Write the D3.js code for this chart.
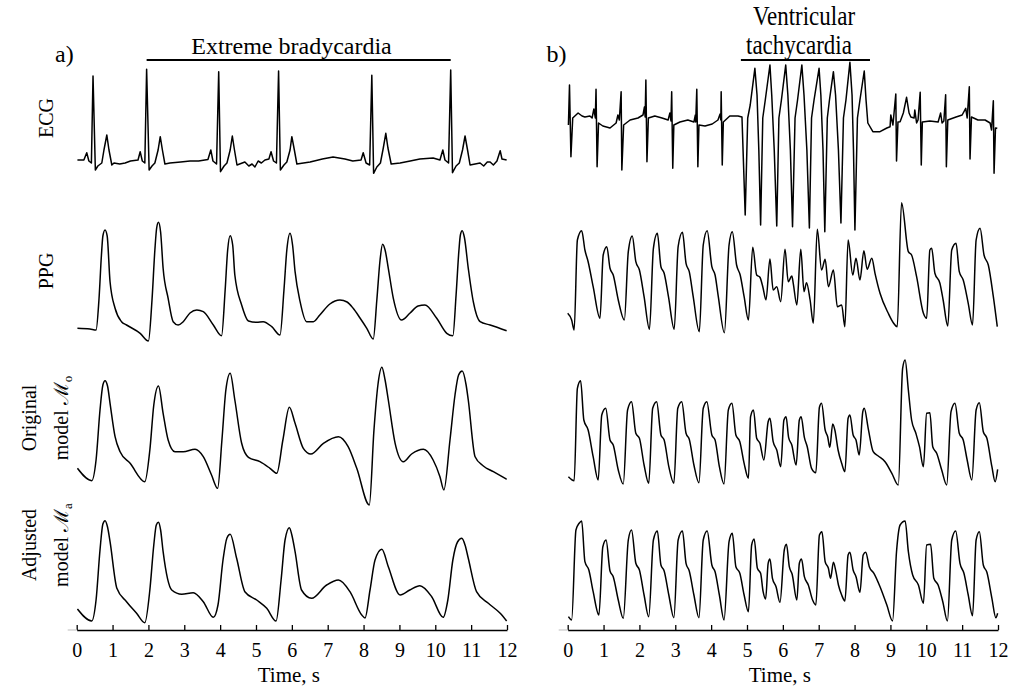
<!DOCTYPE html>
<html>
<head>
<meta charset="utf-8">
<script src="https://cdn.jsdelivr.net/npm/d3@7"></script>
<style>
  html, body { margin: 0; padding: 0; background: #fff; }
  svg { display: block; }
  text { font-family: "Liberation Serif", "Times New Roman", serif; fill: #000; }
</style>
</head>
<body>
<svg id="chart" width="1015" height="692"></svg>
<script>
// ---- data: [time (s), amplitude (arbitrary units per trace)] ----
const timeTicks = [0, 1, 2, 3, 4, 5, 6, 7, 8, 9, 10, 11, 12];

const ecgA = [[0.02,20],[0.20,20],[0.28,27.3],[0.34,19],[0.41,17],[0.455,104],[0.52,10],[0.59,14],[0.70,17],[0.76,30],[0.84,45],[0.90,30],[0.98,15],[1.04,17],[1.20,16],[1.35,17],[1.50,19],[1.71,20],
  [1.77,28.3],[1.83,19],[1.90,17],[1.95,110.7],[2.02,10],[2.10,14],[2.18,17],[2.27,30],[2.33,43.3],[2.39,30],[2.46,16],[2.60,17],[2.90,18],[3.16,19],[3.40,19],[3.66,20.5],
  [3.74,30],[3.80,19],[3.90,16],[3.96,108.3],[4.01,8.3],[4.11,14],[4.19,17],[4.28,30],[4.34,44],[4.40,30],[4.47,15],[4.69,18],[4.80,14],[4.89,16],[4.97,13],[5.06,19],[5.15,17],[5.25,20],[5.36,21],
  [5.42,28.3],[5.49,19],[5.57,17],[5.63,109],[5.68,10],[5.78,15],[5.86,18],[5.95,30],[6.00,43.3],[6.07,30],[6.14,16],[6.51,18],[6.85,21],[7.15,23],[7.48,21],[7.70,19],[7.93,20],
  [7.99,27.3],[8.07,17],[8.17,15],[8.23,104.7],[8.28,6.7],[8.37,13],[8.47,17],[8.55,32],[8.62,46.7],[8.68,32],[8.77,16],[9.02,17],[9.30,19],[9.57,21],[9.94,22],[10.13,20],
  [10.21,30],[10.27,20],[10.37,17],[10.43,110],[10.48,7.3],[10.58,14],[10.67,17],[10.76,30],[10.83,44],[10.90,30],[10.97,15],[11.25,17],[11.35,14],[11.45,18],[11.53,18],[11.62,15],[11.72,19],
  [11.81,29.3],[11.86,21],[11.99,20]];

const ppgA = [[0.02,11.7],[0.37,11],[0.54,10],[0.62,40],[0.69,85],[0.73,104],[0.79,110],[0.85,104],[0.93,58.3],[1.07,31.7],[1.25,18.3],[1.39,15],[1.77,6.7],[2.00,-1],
  [2.10,40],[2.18,90],[2.23,112],[2.28,117.7],[2.34,108],[2.41,71.7],[2.55,41.7],[2.69,18.3],[2.83,15],[2.97,18.3],[3.16,27],[3.35,30],[3.53,28.3],[3.81,15],[4.04,4.3],
  [4.14,50],[4.21,90],[4.28,104.3],[4.35,95],[4.41,65],[4.60,35],[4.79,19],[5.02,17.7],[5.20,18.3],[5.44,13.3],[5.67,5],
  [5.78,50],[5.86,90],[5.95,106.7],[6.02,95],[6.09,68.3],[6.23,38.3],[6.41,18.3],[6.60,18.3],[6.78,25],[7.06,36],[7.34,40],[7.54,38],[7.71,31.7],[7.90,22],[8.09,11.7],[8.27,1],
  [8.37,40],[8.46,80],[8.53,95.7],[8.60,90],[8.69,71.7],[8.83,41.7],[9.06,20],[9.29,26.7],[9.52,34],[9.71,35],[10.04,21.7],[10.32,6.7],[10.49,4.3],
  [10.58,45],[10.66,90],[10.70,105],[10.75,109.3],[10.81,103],[10.92,71.7],[11.06,38.3],[11.25,18.3],[11.53,15],[11.99,9.3]];

const origA = [[0.02,16.7],[0.42,4.3],[0.54,25],[0.65,75],[0.73,100],[0.79,104.3],[0.86,99],[0.93,81.7],[1.07,48.3],[1.21,33.3],[1.49,21.7],[1.90,3.3],
  [2.04,35],[2.15,80],[2.28,99],[2.41,71.7],[2.55,45],[2.74,33.3],[2.97,33.3],[3.30,35.7],[3.53,28.3],[3.76,10],[3.93,-3.3],
  [4.05,45],[4.16,95],[4.28,111.7],[4.41,85],[4.60,41.7],[4.79,27.7],[5.11,23.3],[5.39,16.7],[5.58,11.7],
  [5.75,45],[5.93,77.7],[6.09,61.7],[6.32,36.7],[6.53,31],[6.88,41.7],[7.30,48.3],[7.57,38.3],[7.81,16.7],[8.16,-20],
  [8.29,55],[8.40,100],[8.51,117.7],[8.60,105],[8.69,85],[8.88,41.7],[9.11,23.3],[9.34,31],[9.67,35.7],[9.94,25],[10.13,8.3],[10.24,-5],
  [10.41,45],[10.55,90],[10.65,110],[10.75,114],[10.86,100],[10.92,85],[11.11,28.3],[11.34,19],[11.62,13.3],[11.99,5.7]];

const adjA = [[0.02,11],[0.42,-1],[0.54,20],[0.65,70],[0.73,96],[0.79,99.3],[0.86,93],[0.93,78.3],[1.12,31.7],[1.39,18.3],[1.67,6.7],[1.90,-2.7],
  [2.04,30],[2.15,75],[2.22,95],[2.28,97.7],[2.34,90],[2.41,68.3],[2.65,30],[2.93,25.7],[3.25,27.3],[3.53,18.3],[3.81,2.7],
  [3.94,15],[4.08,60],[4.19,82],[4.28,85.7],[4.46,61.7],[4.69,28.3],[5.02,20],[5.30,11.7],[5.56,-1],
  [5.70,40],[5.81,80],[5.93,92.3],[6.00,85],[6.09,68.3],[6.27,30],[6.55,21.7],[6.97,35],[7.30,40],[7.62,28.3],[7.95,5],[8.04,2],
  [8.18,30],[8.32,60],[8.51,70.7],[8.69,53.3],[9.02,25],[9.29,30],[9.57,34.3],[9.90,23.3],[10.22,2.7],
  [10.35,20],[10.49,60],[10.62,78],[10.74,81.7],[10.83,75],[10.92,61.7],[11.15,28.3],[11.48,16.7],[11.81,6.7],[11.99,-1]];

const ecgB = [[0.02,55],[0.05,95],[0.09,23.3],[0.14,62],[0.29,67],[0.40,64],[0.48,63],[0.62,64],[0.68,62],[0.73,71],[0.77,62],
  [0.79,90.7],[0.82,13.3],[0.86,57],[0.98,54],[1.08,53],[1.18,52],[1.35,57],[1.40,65],[1.44,60],
  [1.49,88.3],[1.51,10],[1.56,55],[1.74,60],[1.96,62],[2.10,65],[2.14,73],[2.16,63],
  [2.18,100],[2.21,18.3],[2.25,62],[2.43,64],[2.63,62],[2.80,60],[2.85,67],[2.88,59],
  [2.90,88.3],[2.93,11.7],[2.96,55],[3.13,58],[3.35,60],[3.52,58],[3.56,65],[3.57,58],
  [3.60,90.7],[3.63,13.3],[3.66,55],[3.83,54],[4.03,56],[4.19,60],[4.25,66],[4.27,60],
  [4.28,88.3],[4.31,15],[4.34,58],[4.52,64],[4.75,64],[4.86,63],
  [4.95,-35],[5.02,62],[5.09,75],[5.22,111.7],[5.28,85],[5.33,30],
  [5.38,-45],[5.44,62],[5.51,80],[5.64,115],[5.69,85],[5.76,30],
  [5.83,-46],[5.89,62],[5.96,80],[6.08,115],[6.14,85],[6.21,30],
  [6.27,-46.7],[6.34,62],[6.41,80],[6.53,115],[6.59,85],[6.67,30],
  [6.74,-48],[6.80,62],[6.87,80],[7.01,111.7],[7.06,85],[7.12,30],
  [7.17,-51.7],[7.24,62],[7.30,80],[7.41,108.3],[7.47,85],[7.55,30],
  [7.62,-43],[7.69,62],[7.76,80],[7.87,117.7],[7.93,85],[7.97,30],
  [8.01,-50],[8.08,62],[8.15,80],[8.27,109],[8.32,80],[8.37,57],
  [8.51,48.3],[8.71,48.3],[8.90,52],[8.99,53.3],[9.01,65],[9.07,55],
  [9.15,86],[9.17,19],[9.21,58],[9.27,58.3],[9.36,67],[9.45,82.7],[9.52,67],[9.57,63],[9.66,62],[9.68,70],[9.73,57],[9.77,60],
  [9.83,87.7],[9.86,15],[9.89,58],[10.10,59],[10.33,58],[10.40,67],[10.44,57],[10.49,59],
  [10.54,85.3],[10.56,13.3],[10.60,60],[10.83,63],[11.00,65],[11.10,71.7],[11.14,62],
  [11.20,93.3],[11.22,21],[11.26,63],[11.44,60],[11.64,60],[11.78,57],[11.82,50],
  [11.87,79.3],[11.89,6.7],[11.93,52],[11.98,51.7]];

const ppgB = [[0.00,26.7],[0.11,20],[0.18,10],[0.27,100],[0.39,109.3],[0.48,90],[0.57,78.3],[0.71,53.3],[0.90,21.7],
  [0.99,85],[1.09,93.3],[1.18,71.7],[1.27,65],[1.41,40],[1.58,20],
  [1.69,88.3],[1.80,104],[1.90,78.3],[2.00,70],[2.13,43.3],[2.28,10.7],
  [2.39,91.7],[2.50,106.7],[2.60,73.3],[2.69,66.7],[2.81,43.3],[2.97,10.7],
  [3.08,93.3],[3.20,107.7],[3.30,76.7],[3.39,68.3],[3.50,43.3],[3.67,8.3],
  [3.78,95],[3.89,109.3],[4.02,73.3],[4.11,65],[4.20,43.3],[4.37,7.3],
  [4.50,95],[4.59,108.3],[4.71,75],[4.81,65],[4.92,43.3],[5.04,20],
  [5.16,92.7],[5.27,65],[5.36,62.7],[5.44,53.3],[5.53,40],
  [5.64,81],[5.73,50],[5.83,53.3],[5.94,38.3],
  [6.06,90.7],[6.15,58.3],[6.25,64],[6.29,56.7],[6.39,35],
  [6.50,90.7],[6.59,48.3],[6.66,57.3],[6.76,40],[6.85,16.7],
  [6.96,110.7],[7.08,70],[7.18,80.7],[7.27,53.3],[7.41,70],[7.52,33.3],[7.64,35],[7.73,13.3],
  [7.82,100],[7.95,65],[8.04,81.7],[8.15,60],[8.26,89.3],[8.35,70.7],[8.48,81.7],[8.57,66.7],[8.71,46.7],[8.94,26.7],[9.08,17.3],[9.19,13.3],
  [9.31,137.3],[9.50,88.3],[9.59,85],[9.73,63.3],[9.92,26.7],[10.01,21.7],
  [10.10,90],[10.15,91.7],[10.24,66.7],[10.38,56.7],[10.47,40],[10.60,14],
  [10.71,90],[10.83,96.7],[10.92,68.3],[11.03,60],[11.17,36.7],[11.29,15],
  [11.39,100],[11.50,111.7],[11.61,85],[11.73,75],[11.87,43.3],[11.98,13.3]];

const origB = [[0.02,8.3],[0.18,4.3],[0.27,96.7],[0.36,104.3],[0.45,65],[0.57,55],[0.71,28.3],[0.85,5],
  [0.95,70],[1.06,76.7],[1.18,45],[1.27,40],[1.41,15],[1.55,1],
  [1.67,75],[1.78,83.3],[1.90,51.7],[2.00,46.7],[2.13,20],[2.26,1.7],
  [2.37,76.7],[2.48,83.3],[2.60,50],[2.69,45],[2.82,18.3],[2.96,1.7],
  [3.07,76.7],[3.18,83.3],[3.30,51.7],[3.39,45.7],[3.52,20],[3.66,2.3],
  [3.78,76.7],[3.88,83.3],[4.02,50],[4.11,45],[4.23,18.3],[4.36,1],
  [4.48,75],[4.58,81.7],[4.69,50],[4.80,43.3],[4.92,21.7],[5.04,6.7],
  [5.10,68.3],[5.18,75],[5.27,46.7],[5.36,41.7],[5.47,25],
  [5.59,63.3],[5.64,66.7],[5.73,43.3],[5.83,35],[5.94,18.3],
  [6.03,65],[6.09,68.3],[6.16,47.7],[6.25,40],[6.37,20],
  [6.46,65],[6.51,68.3],[6.60,47.7],[6.68,38.3],[6.80,16.7],[6.92,12.3],
  [7.02,77.7],[7.08,81.7],[7.18,55],[7.25,48.3],[7.31,37.7],[7.39,61],[7.45,55],[7.54,35],[7.64,21.7],[7.73,13.3],
  [7.82,66.7],[7.87,70],[7.96,50],[8.04,45],[8.13,30],
  [8.23,73.3],[8.27,76.7],[8.38,56.7],[8.52,33.3],[8.66,29],[8.85,23.3],[9.04,11.7],[9.22,0],
  [9.34,116.7],[9.41,125],[9.50,95],[9.59,65],[9.71,51.7],[9.81,38.3],[9.92,18.3],
  [10.01,71.7],[10.10,72.3],[10.18,38.3],[10.29,31.7],[10.43,15],[10.57,0],
  [10.69,73.3],[10.80,81.7],[10.92,51.7],[11.03,45],[11.14,25],[11.27,5],
  [11.39,75],[11.48,82.3],[11.59,53.3],[11.69,46.7],[11.83,18.3],[11.92,3.3],[11.99,15.7]];

const adjB = [[0.02,3.3],[0.11,0],[0.23,90],[0.32,96.7],[0.39,99],[0.48,58.3],[0.59,50],[0.71,28.3],[0.87,5],
  [0.98,73.3],[1.07,80],[1.18,49],[1.27,43.3],[1.41,20],[1.55,1.7],
  [1.69,80],[1.78,90],[1.90,56.7],[2.00,50],[2.13,25],[2.26,3.3],
  [2.39,80],[2.50,89],[2.60,55],[2.69,49],[2.82,25],[2.96,2.3],
  [3.08,80],[3.20,89],[3.30,56.7],[3.39,49],[3.52,25],[3.66,2.3],
  [3.78,80],[3.89,89],[4.02,55],[4.11,48.3],[4.23,25],[4.36,0],
  [4.50,78.3],[4.59,86.7],[4.69,53.3],[4.80,46.7],[4.92,25],[5.04,8.3],
  [5.13,75],[5.20,81],[5.29,51.7],[5.38,46.7],[5.45,28.3],[5.52,21],
  [5.59,56.7],[5.64,61],[5.71,41.7],[5.81,33.3],[5.92,17.7],
  [6.04,70],[6.10,75.7],[6.18,53.3],[6.26,45.7],[6.39,20],
  [6.46,56.7],[6.52,61],[6.60,43.3],[6.71,35],[6.83,20],[6.92,15],
  [7.02,85],[7.09,88.3],[7.18,58.3],[7.27,51.7],[7.33,41.7],[7.41,57.7],[7.48,48.3],[7.55,35],[7.64,25],[7.73,19],
  [7.82,65],[7.87,67.7],[7.96,50],[8.04,43.3],[8.15,27.7],
  [8.24,65],[8.31,67.7],[8.41,53.3],[8.54,46.7],[8.71,33.3],[8.90,15],[9.06,-1],
  [9.17,68.3],[9.27,95],[9.41,99],[9.50,68.3],[9.62,45],[9.78,35],[9.92,16.7],
  [10.01,75],[10.12,75.7],[10.21,41.7],[10.33,35],[10.46,18.3],[10.59,-1],
  [10.71,80],[10.82,89],[10.94,56.7],[11.05,46.7],[11.17,25],[11.29,4.3],
  [11.39,80],[11.48,88.3],[11.59,55],[11.69,47.7],[11.83,21.7],[11.94,2.3],[11.99,6.7]];

// episode markers: [start, end] in seconds
const episodeA = [1.95, 10.43];
const episodeB = [4.83, 8.43];

// ---- layout ----
const svg = d3.select("#chart");
const panels = [
  { x0: 76.7, x1: 507, traces: [ecgA, ppgA, origA, adjA] },
  { x0: 567.7, x1: 998, traces: [ecgB, ppgB, origB, adjB] }
];
// vertical band per row: amplitude 0 -> bottom, 100 -> top
const rows = [
  { bottom: 180, top: 80, curve: d3.curveLinear },
  { bottom: 340, top: 240, curve: d3.curveMonotoneX },
  { bottom: 485, top: 385, curve: d3.curveMonotoneX },
  { bottom: 620, top: 520, curve: d3.curveMonotoneX }
];
const axisY = 630;
const serif = '"Liberation Serif", "Times New Roman", serif';

panels.forEach((p, pi) => {
  const x = d3.scaleLinear().domain([0, 12]).range([p.x0, p.x1]);
  p.x = x;
  rows.forEach((r, ri) => {
    const y = d3.scaleLinear().domain([0, 100]).range([r.bottom, r.top]);
    const line = d3.line().x(d => x(d[0])).y(d => y(d[1])).curve(r.curve);
    svg.append("path")
      .datum(p.traces[ri])
      .attr("d", line)
      .attr("fill", "none")
      .attr("stroke", "#000")
      .attr("stroke-width", 1.5)
      .attr("stroke-linejoin", "round");
  });

  // time axis
  const axis = d3.axisBottom(x)
    .tickValues(timeTicks)
    .tickFormat(d3.format("d"))
    .tickSizeInner(-5)
    .tickSizeOuter(0)
    .tickPadding(13);
  const g = svg.append("g").attr("transform", `translate(0,${axisY})`).call(axis);
  g.attr("font-family", serif);
  g.select(".domain").attr("stroke", "#000").attr("stroke-width", 1.3);
  g.selectAll(".tick line").attr("stroke", "#000").attr("stroke-width", 1.3);
  g.selectAll(".tick text")
    .attr("font-family", serif)
    .attr("font-size", 20)
    .attr("fill", "#000");
  // short grey stub left of the axis start
  svg.append("line")
    .attr("x1", x(0) - 9).attr("x2", x(0))
    .attr("y1", axisY).attr("y2", axisY)
    .attr("stroke", "#ccc").attr("stroke-width", 1.3);

  svg.append("text")
    .attr("x", (p.x0 + p.x1) / 2 - 3)
    .attr("y", 682)
    .attr("text-anchor", "middle")
    .attr("font-size", 21)
    .text("Time, s");
});

// episode bars and titles
const xa = panels[0].x, xb = panels[1].x;
svg.append("line")
  .attr("x1", xa(episodeA[0])).attr("x2", xa(episodeA[1]))
  .attr("y1", 60).attr("y2", 60)
  .attr("stroke", "#000").attr("stroke-width", 2.2);
svg.append("text")
  .attr("x", 291.5)
  .attr("y", 53.5)
  .attr("text-anchor", "middle")
  .attr("font-size", 24)
  .text("Extreme bradycardia");

svg.append("line")
  .attr("x1", xb(episodeB[0])).attr("x2", xb(episodeB[1]))
  .attr("y1", 60).attr("y2", 60)
  .attr("stroke", "#000").attr("stroke-width", 2.2);
// two-line title, drawn slightly taller than wide
const tb = svg.append("g")
  .attr("transform", "translate(0,53.5) scale(1,1.2)")
  .attr("text-anchor", "middle")
  .attr("font-size", 23);
tb.append("text").attr("x", 804).attr("y", -23.4).text("Ventricular");
tb.append("text").attr("x", 799).attr("y", 0).text("tachycardia");

// panel letters
svg.append("text").attr("x", 55).attr("y", 62).attr("font-size", 24).text("a)");
svg.append("text").attr("x", 546.5).attr("y", 62).attr("font-size", 24).text("b)");

// row labels (rotated)
function rowLabel(xBase, yc, build) {
  const t = svg.append("text")
    .attr("transform", `translate(${xBase},${yc}) rotate(-90)`)
    .attr("text-anchor", "middle")
    .attr("font-size", 20);
  build(t);
}
rowLabel(53, 118, t => t.text("ECG"));
rowLabel(53, 271, t => t.text("PPG"));
rowLabel(36, 418, t => t.text("Original"));
rowLabel(68, 418, t => {
  t.append("tspan").text("model ");
  t.append("tspan").text("\u2133");
  t.append("tspan").attr("font-size", 13).attr("dy", 4).text("o");
});
rowLabel(36, 545, t => t.text("Adjusted"));
rowLabel(68, 545, t => {
  t.append("tspan").text("model ");
  t.append("tspan").text("\u2133");
  t.append("tspan").attr("font-size", 13).attr("dy", 4).text("a");
});
</script>
</body>
</html>
